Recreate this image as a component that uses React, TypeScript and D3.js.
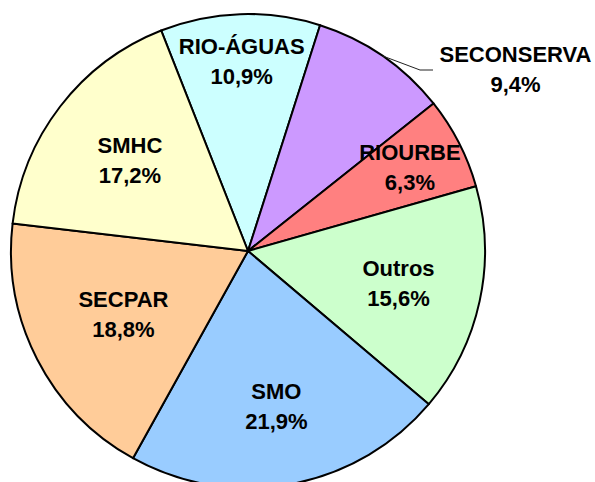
import React from "react";
import * as d3 from "d3";

const categories = ["RIO-ÁGUAS", "SECONSERVA", "RIOURBE", "Outros", "SMO", "SECPAR", "SMHC"];
const values = [10.9, 9.4, 6.3, 15.6, 21.9, 18.8, 17.2];
const valueLabels = ["10,9%", "9,4%", "6,3%", "15,6%", "21,9%", "18,8%", "17,2%"];
const colors = ["#CCFFFF", "#CC99FF", "#FF8080", "#CCFFCC", "#99CCFF", "#FFCC99", "#FFFFCC"];

// layout
const W = 595;
const H = 482;
const CX = 248;
const CY = 251;
const R = 237;
const START_DEG = -21.5;
const labelRadii = [190, 0, 182, 154, 158, 140, 149];
const FONT = "'Liberation Sans', Arial, sans-serif";

export default function App() {
  const toRad = (d: number) => (d * Math.PI) / 180;
  const start = toRad(START_DEG);
  const pie = d3
    .pie<number>()
    .sort(null)
    .value((d) => d)
    .startAngle(start)
    .endAngle(start + 2 * Math.PI);
  const arcs = pie(values);
  const arcGen = d3.arc<d3.PieArcDatum<number>>().innerRadius(0).outerRadius(R);

  const polar = (r: number, a: number): [number, number] => [r * Math.sin(a), -r * Math.cos(a)];

  return (
    <svg
      width={W}
      height={H}
      style={{ position: "absolute", left: 0, top: 0, background: "#fff" }}
    >
      <g transform={`translate(${CX},${CY})`}>
        {arcs.map((a, i) => (
          <path key={i} d={arcGen(a) || ""} fill={colors[i]} stroke="#000" strokeWidth={2} strokeLinejoin="round" />
        ))}
        {arcs.map((a, i) => {
          const mid = (a.startAngle + a.endAngle) / 2;
          if (i === 1) {
            const [x0, y0] = polar(R, mid);
            const lx = 433 - CX;
            const ly = 70 - CY;
            return (
              <g key={i}>
                <polyline
                  points={`${x0},${y0} ${lx - 13},${ly} ${lx},${ly}`}
                  fill="none"
                  stroke="#222"
                  strokeWidth={1}
                />
                <text x={515.5 - CX} y={69 - CY - 7.5} textAnchor="middle" fontFamily={FONT} fontWeight="bold" fontSize={22} fill="#000">
                  {categories[i]}
                </text>
                <text x={515.5 - CX} y={69 - CY + 22.5} textAnchor="middle" fontFamily={FONT} fontWeight="bold" fontSize={22} fill="#000">
                  {valueLabels[i]}
                </text>
              </g>
            );
          }
          const [x, y] = polar(labelRadii[i], mid);
          return (
            <g key={i}>
              <text x={x} y={y - 7.5} textAnchor="middle" fontFamily={FONT} fontWeight="bold" fontSize={22} fill="#000">
                {categories[i]}
              </text>
              <text x={x} y={y + 22.5} textAnchor="middle" fontFamily={FONT} fontWeight="bold" fontSize={22} fill="#000">
                {valueLabels[i]}
              </text>
            </g>
          );
        })}
      </g>
    </svg>
  );
}
